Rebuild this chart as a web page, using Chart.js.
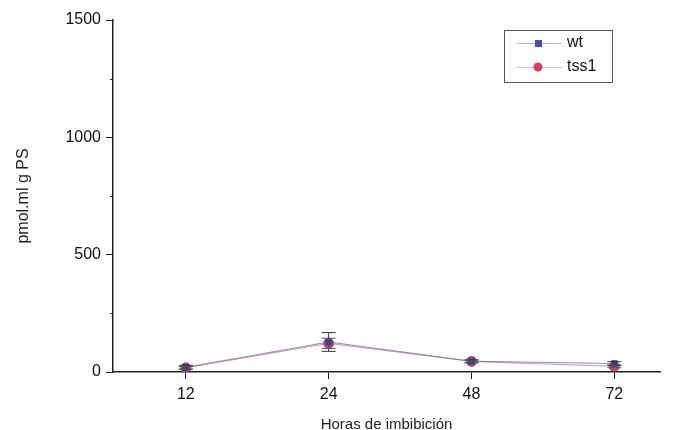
<!DOCTYPE html>
<html><head><meta charset="utf-8">
<script src="https://cdn.jsdelivr.net/npm/chart.js@4/dist/chart.umd.min.js"></script>
<style>html,body{margin:0;padding:0;background:#fff}#w{width:676px;height:430px}</style>
</head><body><div id="w"><canvas id="c" width="676" height="430"></canvas></div>
<script>
const categories = ['12', '24', '48', '72'];
const wtValues = [20, 128, 46, 36];
const wtErrors = [8, 40, 6, 8];
const tss1Values = [18, 122, 45, 24];
const tss1Errors = [6, 22, 5, 6];
const yMajorTicks = [0, 500, 1000, 1500];
const yMinorTicks = [250, 750, 1250];

const FONT = 'Liberation Sans, Arial, sans-serif';
const toPts = v => v.map((y, i) => ({x: i, y}));

const errPlugin = {
  id: 'extras',
  afterDatasetsDraw(chart) {
    const ctx = chart.ctx, xs = chart.scales.x, ys = chart.scales.y;
    const sets = [[wtValues, wtErrors, '#2f3a3a'], [tss1Values, tss1Errors, '#555']];
    ctx.save();
    ctx.lineWidth = 1;
    sets.forEach(([vals, errs, col]) => {
      vals.forEach((v, i) => {
        const x = xs.getPixelForValue(i);
        const t = ys.getPixelForValue(v + errs[i]), b = ys.getPixelForValue(v - errs[i]);
        ctx.strokeStyle = col;
        ctx.beginPath();
        ctx.moveTo(x, t); ctx.lineTo(x, b);
        ctx.moveTo(x - 7, t); ctx.lineTo(x + 7, t);
        ctx.moveTo(x - 7, b); ctx.lineTo(x + 7, b);
        ctx.stroke();
      });
    });
    ctx.strokeStyle = '#222';
    const xl = chart.chartArea.left;
    yMinorTicks.forEach(v => {
      const y = Math.round(ys.getPixelForValue(v)) + 0.5;
      ctx.beginPath(); ctx.moveTo(xl - 3, y); ctx.lineTo(xl, y); ctx.stroke();
    });
    ctx.restore();
  },
  afterDraw(chart) {
    const ctx = chart.ctx;
    ctx.save();
    ctx.strokeStyle = '#555';
    ctx.lineWidth = 1;
    ctx.strokeRect(504.5, 30.5, 108, 52);
    const items = [
      {label: 'wt', y: 43, line: 'rgba(140,140,200,0.6)', color: '#4a4aa8', shape: 'rect'},
      {label: 'tss1', y: 67, line: 'rgba(200,150,170,0.6)', color: '#d0405a', shape: 'circle'}
    ];
    items.forEach(it => {
      ctx.strokeStyle = it.line;
      ctx.beginPath(); ctx.moveTo(516, it.y + 0.5); ctx.lineTo(562, it.y + 0.5); ctx.stroke();
      ctx.fillStyle = it.color;
      if (it.shape === 'rect') ctx.fillRect(535, it.y - 3, 7, 7);
      else { ctx.beginPath(); ctx.arc(538, it.y, 4.5, 0, Math.PI * 2); ctx.fill(); }
      ctx.fillStyle = '#111';
      ctx.font = '16px ' + FONT;
      ctx.textBaseline = 'middle';
      ctx.fillText(it.label, 567, it.y);
    });
    ctx.restore();
  }
};

new Chart(document.getElementById('c'), {
  type: 'line',
  data: {
    datasets: [
      {label: 'wt', data: toPts(wtValues), borderColor: 'rgba(110,100,170,0.75)', borderWidth: 1,
       pointStyle: 'rect', pointRadius: 4, pointBackgroundColor: '#4a3a8a', pointBorderColor: '#4a3a8a', tension: 0},
      {label: 'tss1', data: toPts(tss1Values), borderColor: 'rgba(190,100,130,0.7)', borderWidth: 1,
       pointStyle: 'circle', pointRadius: 5, pointBackgroundColor: 'rgba(185,60,100,0.9)', pointBorderColor: 'rgba(150,60,100,0.9)', tension: 0}
    ]
  },
  plugins: [errPlugin],
  options: {
    responsive: false,
    animation: false,
    layout: {padding: {top: 20, right: 16, left: 0, bottom: 0}},
    plugins: {legend: {display: false}, tooltip: {enabled: false}},
    scales: {
      x: {
        type: 'linear', min: -0.51, max: 3.32,
        afterBuildTicks: s => { s.ticks = categories.map((c, i) => ({value: i})); },
        afterFit: s => { s.height = 58; },
        ticks: {callback: v => categories[v], color: '#111', font: {family: FONT, size: 16}, padding: 6, maxRotation: 0},
        grid: {drawOnChartArea: false, tickLength: 7, color: '#222'},
        border: {color: '#222', width: 1.5},
        title: {display: true, text: 'Horas de imbibición', color: '#222', font: {family: FONT, size: 15}, padding: {top: 11, bottom: -4}}
      },
      y: {
        min: 0, max: 1500,
        afterBuildTicks: s => { s.ticks = yMajorTicks.map(v => ({value: v})); },
        afterFit: s => { s.width = 113; },
        ticks: {callback: v => String(v), color: '#111', font: {family: FONT, size: 16}, padding: 5},
        grid: {drawOnChartArea: false, tickLength: 7, color: '#222'},
        border: {color: '#222', width: 1.5},
        title: {display: true, text: 'pmol.ml g PS', color: '#222', font: {family: FONT, size: 16}, padding: {top: 14, bottom: 10}}
      }
    }
  }
});
</script></body></html>
